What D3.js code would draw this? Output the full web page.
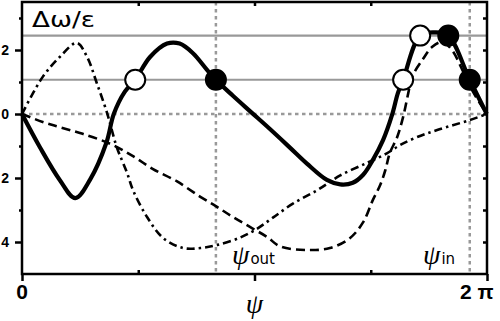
<!DOCTYPE html>
<html>
<head>
<meta charset="utf-8">
<script src="https://cdn.jsdelivr.net/npm/d3@7"></script>
<style>
  html, body { margin: 0; padding: 0; background: #fff; }
  svg { display: block; }
</style>
</head>
<body>
<svg id="chart" width="500" height="321"></svg>
<script>
// ---- data ----
const solidPsi = [0, 0.24, 0.51, 0.72, 0.92, 1.14, 1.24, 1.39, 1.53, 1.73, 1.96, 2.13, 2.31, 2.50, 2.62, 2.85, 3.08, 3.35, 3.62, 3.85, 4.12, 4.30, 4.47, 4.61, 4.74, 4.88, 5.00, 5.08, 5.15, 5.38, 5.58, 5.76, 6.05, 6.28];
const solidVal = [0, -1.03, -2.06, -2.63, -2.05, -0.9, 0, 0.7, 1.07, 1.78, 2.2, 2.2, 1.9, 1.38, 1.07, 0.57, 0.09, -0.47, -1.05, -1.55, -2.06, -2.2, -2.15, -1.9, -1.44, -0.81, -0.03, 0.66, 1.07, 2.45, 2.55, 2.45, 1.07, 0];

const dashedPsi = [0, 0.28, 0.51, 0.82, 1.19, 1.50, 1.77, 2.09, 2.41, 2.64, 2.85, 3.08, 3.31, 3.49, 3.85, 4.16, 4.43, 4.61, 4.74, 4.84, 4.91, 4.97, 5.07, 5.15, 5.22, 5.27, 5.41, 5.54, 5.68, 5.81, 5.95, 6.08, 6.28];
const dashedVal = [0, -0.25, -0.41, -0.62, -0.93, -1.32, -1.72, -2.1, -2.59, -2.91, -3.22, -3.53, -3.84, -4.14, -4.25, -4.19, -3.88, -3.38, -2.69, -2.22, -1.75, -1.22, -0.72, -0.09, 0.66, 1.16, 1.69, 2.09, 2.25, 2.0, 1.38, 0.75, 0];

const dashDotPsi = [0, 0.28, 0.51, 0.74, 0.88, 1.01, 1.15, 1.28, 1.42, 1.50, 1.69, 1.91, 2.18, 2.41, 2.64, 2.95, 3.18, 3.39, 3.66, 3.99, 4.30, 4.66, 4.93, 5.11, 5.34, 5.61, 6.05, 6.28];
const dashDotVal = [0, 1.16, 1.78, 2.22, 1.78, 0.97, 0.03, -1.03, -1.84, -2.38, -3.22, -3.88, -4.19, -4.19, -4.09, -3.86, -3.58, -3.24, -2.8, -2.38, -1.92, -1.53, -1.23, -0.97, -0.72, -0.5, -0.19, 0];

const levels = [1.07, 2.45];
const openPsi = [1.53, 5.15, 5.38];
const openVal = [1.07, 1.07, 2.45];
const filledPsi = [2.62, 5.76, 6.05];
const filledVal = [1.07, 2.45, 1.07];
const markerPsi = [2.62, 6.05];          // psi_out, psi_in
const markerNames = ["out", "in"];

const yMajorTicks = [-4, -2, 0, 2];
const yMajorLabels = ["4", "2", "0", "2"];
const yMinorTicks = [-3, -1, 1, 3];
const yRightTicks = [-4, -3, -2, -1, 0, 1, 2, 3];
const xMajorTicks = [0, Math.PI, 2 * Math.PI];
const xMinorTicks = [Math.PI / 2, 3 * Math.PI / 2];
const xTopTicks = [Math.PI / 2, Math.PI, 3 * Math.PI / 2];

// ---- layout ----
const svg = d3.select("#chart");
const L = 22, R = 487, T = 2, B = 274;
const x = d3.scaleLinear().domain([0, 2 * Math.PI]).range([L, R]);
const y = d3.scaleLinear().domain([-5, 3.5]).range([B, T]);
const grey = "#999";

// gray reference lines
svg.append("g").selectAll("line").data(levels).join("line")
  .attr("x1", L).attr("x2", R)
  .attr("y1", d => y(d)).attr("y2", d => y(d))
  .attr("stroke", grey).attr("stroke-width", 2.2);

svg.append("line")
  .attr("x1", L).attr("x2", R).attr("y1", y(0)).attr("y2", y(0))
  .attr("stroke", grey).attr("stroke-width", 2.5).attr("stroke-dasharray", "3.5,3.5");

svg.append("g").selectAll("line").data(markerPsi).join("line")
  .attr("x1", d => x(d)).attr("x2", d => x(d))
  .attr("y1", T).attr("y2", B)
  .attr("stroke", grey).attr("stroke-width", 2.5).attr("stroke-dasharray", "3.5,3.5");

// curves
const line = d3.line()
  .x(d => x(d[0])).y(d => y(d[1]))
  .curve(d3.curveCatmullRom.alpha(0.5));

svg.append("path")
  .attr("d", line(dashDotPsi.map((p, i) => [p, dashDotVal[i]])))
  .attr("fill", "none").attr("stroke", "#000").attr("stroke-width", 2.6)
  .attr("stroke-dasharray", "8,4,2.5,4");

svg.append("path")
  .attr("d", line(dashedPsi.map((p, i) => [p, dashedVal[i]])))
  .attr("fill", "none").attr("stroke", "#000").attr("stroke-width", 2.6)
  .attr("stroke-dasharray", "9,5");

svg.append("path")
  .attr("d", line(solidPsi.map((p, i) => [p, solidVal[i]])))
  .attr("fill", "none").attr("stroke", "#000").attr("stroke-width", 4.2)
  .attr("stroke-linejoin", "round");

// circles
svg.append("g").selectAll("circle").data(openPsi.map((p, i) => [p, openVal[i]])).join("circle")
  .attr("cx", d => x(d[0])).attr("cy", d => y(d[1])).attr("r", 10)
  .attr("fill", "#fff").attr("stroke", "#000").attr("stroke-width", 2);
svg.append("g").selectAll("circle").data(filledPsi.map((p, i) => [p, filledVal[i]])).join("circle")
  .attr("cx", d => x(d[0])).attr("cy", d => y(d[1])).attr("r", 10)
  .attr("fill", "#000").attr("stroke", "#000").attr("stroke-width", 2);

// axes
svg.append("rect")
  .attr("x", L).attr("y", T).attr("width", R - L).attr("height", B - T)
  .attr("fill", "none").attr("stroke", "#000").attr("stroke-width", 2.5);

function styleAxis(g) {
  g.select(".domain").remove();
  g.selectAll(".tick line").attr("stroke", "#000").attr("stroke-width", 2.5);
  g.selectAll("text").attr("font-family", "Liberation Sans, Arial, sans-serif")
    .attr("font-weight", "bold").attr("fill", "#000");
}

svg.append("g").attr("transform", `translate(${L},0)`)
  .call(d3.axisLeft(y).tickValues(yMajorTicks).tickSize(7).tickPadding(6)
    .tickFormat((d, i) => yMajorLabels[i]))
  .call(styleAxis)
  .call(g => g.selectAll("text").attr("font-size", 14));

svg.append("g").attr("transform", `translate(${L},0)`)
  .call(d3.axisLeft(y).tickValues(yMinorTicks).tickSize(3).tickFormat(""))
  .call(styleAxis);

svg.append("g").attr("transform", `translate(${R},0)`)
  .call(d3.axisRight(y).tickValues(yRightTicks).tickSize(-4).tickFormat(""))
  .call(styleAxis);

svg.append("g").attr("transform", `translate(0,${B})`)
  .call(d3.axisBottom(x).tickValues(xMajorTicks).tickSize(7).tickFormat(""))
  .call(styleAxis);

svg.append("g").attr("transform", `translate(0,${B})`)
  .call(d3.axisBottom(x).tickValues(xMinorTicks).tickSize(-4).tickFormat(""))
  .call(styleAxis);

svg.append("g").attr("transform", `translate(0,${T})`)
  .call(d3.axisTop(x).tickValues(xTopTicks).tickSize(-4).tickFormat(""))
  .call(styleAxis);

// bottom labels
svg.append("text").attr("x", x(0)).attr("y", 299).attr("text-anchor", "middle")
  .attr("font-family", "Liberation Sans, Arial, sans-serif").attr("font-weight", "bold")
  .attr("font-size", 21).text("0");
svg.append("text").attr("x", x(Math.PI)).attr("y", 313).attr("text-anchor", "middle")
  .attr("font-family", "Liberation Serif, Times New Roman, serif").attr("font-style", "italic")
  .attr("font-size", 28).text("ψ");
svg.append("text").attr("x", 460).attr("y", 299).attr("text-anchor", "start")
  .attr("font-family", "Liberation Sans, Arial, sans-serif").attr("font-weight", "bold")
  .attr("font-size", 21).text("2 π");

// title
svg.append("text").attr("x", 32).attr("y", 27)
  .attr("font-family", "DejaVu Sans, sans-serif").attr("font-size", 21)
  .attr("textLength", 63).attr("lengthAdjust", "spacingAndGlyphs")
  .text("Δω/ε");

// psi_out / psi_in labels
const lblX = [232, 423];
markerNames.forEach((n, i) => {
  const t = svg.append("text").attr("x", lblX[i]).attr("y", 264);
  t.append("tspan").attr("font-family", "Liberation Serif, Times New Roman, serif")
    .attr("font-style", "italic").attr("font-size", 28).text("ψ");
  t.append("tspan").attr("font-family", "DejaVu Sans, sans-serif")
    .attr("font-size", 15).attr("dx", 1).text(n);
});
</script>
</body>
</html>
